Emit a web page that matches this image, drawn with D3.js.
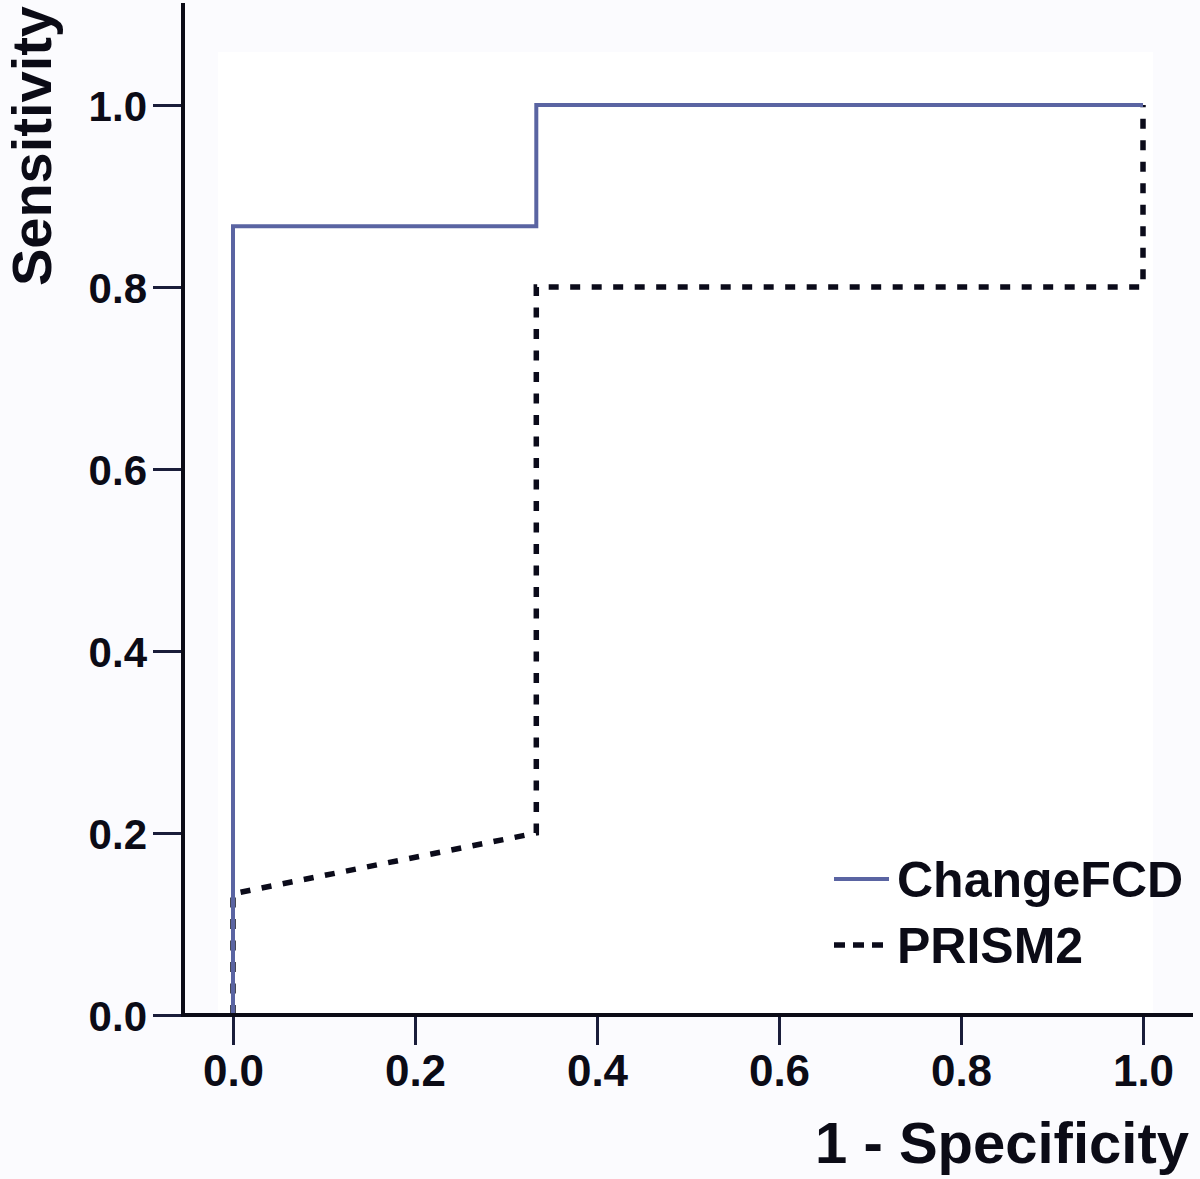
<!DOCTYPE html>
<html>
<head>
<meta charset="utf-8">
<script src="https://cdn.jsdelivr.net/npm/d3@7"></script>
<style>
  body { margin: 0; background: #fbfbfe; }
  svg { display: block; }
  text { font-family: "Liberation Sans", Arial, sans-serif; font-weight: bold; fill: #0b0b16; }
</style>
</head>
<body>
<svg id="chart"></svg>
<script>
// ROC curves: x = 1 - specificity, y = sensitivity
const changeFcdX = [0, 0, 0.3333, 0.3333, 1];
const changeFcdY = [0, 0.8667, 0.8667, 1, 1];
const prismX = [0, 0, 0.3333, 0.3333, 1, 1];
const prismY = [0, 0.1333, 0.2, 0.8, 0.8, 1];
const seriesNames = ["ChangeFCD", "PRISM2"];
const tickValues = [0, 0.2, 0.4, 0.6, 0.8, 1.0];

const W = 1200, H = 1179;
const x0 = 183, y0 = 1015;

const svg = d3.select("#chart")
  .attr("width", W)
  .attr("height", H);

const xScale = d3.scaleLinear()
  .domain([0, 1])
  .range([233, 1143]);

const yScale = d3.scaleLinear()
  .domain([0, 1])
  .range([y0, 105]);

// faint white plot panel
svg.append("rect")
  .attr("x", 218).attr("y", 52)
  .attr("width", 1153 - 218).attr("height", y0 - 52)
  .attr("fill", "#ffffff");

// legend panel
svg.append("rect")
  .attr("x", 810).attr("y", 838)
  .attr("width", 88).attr("height", 56)
  .attr("fill", "#ffffff");

const line = d3.line()
  .x(d => xScale(d[0]))
  .y(d => yScale(d[1]));

const dash = "10,11.5";

// PRISM2 (dotted) underneath
svg.append("path")
  .datum(prismX.map((v, i) => [v, prismY[i]]))
  .attr("d", line)
  .attr("fill", "none")
  .attr("stroke", "#0b0b1a")
  .attr("stroke-width", 5.5)
  .attr("stroke-dasharray", dash);

// ChangeFCD (solid)
svg.append("path")
  .datum(changeFcdX.map((v, i) => [v, changeFcdY[i]]))
  .attr("d", line)
  .attr("fill", "none")
  .attr("stroke", "#5a64a2")
  .attr("stroke-width", 4);

// axes
const xAxis = d3.axisBottom(xScale)
  .tickValues(tickValues)
  .tickSize(30)
  .tickPadding(10)
  .tickFormat(d3.format(".1f"));

const yAxis = d3.axisLeft(yScale)
  .tickValues(tickValues)
  .tickSize(30)
  .tickPadding(6)
  .tickFormat(d3.format(".1f"));

const gx = svg.append("g")
  .attr("transform", `translate(0, ${y0})`)
  .call(xAxis);
gx.select(".domain").remove();
gx.selectAll(".tick line").attr("stroke", "#1a1d3a").attr("stroke-width", 3);
gx.selectAll(".tick text")
  .attr("font-size", 44)
  .attr("dy", "0.71em")
  .attr("fill", "#0b0b16")
  .attr("font-family", "Liberation Sans, Arial, sans-serif");

const gy = svg.append("g")
  .attr("transform", `translate(${x0}, 0)`)
  .call(yAxis);
gy.select(".domain").remove();
gy.selectAll(".tick line").attr("stroke", "#1a1d3a").attr("stroke-width", 3);
gy.selectAll(".tick text")
  .attr("font-size", 42)
  .attr("dy", "0.36em")
  .attr("fill", "#0b0b16")
  .attr("font-family", "Liberation Sans, Arial, sans-serif");

// axis lines
svg.append("line")
  .attr("x1", x0).attr("x2", x0)
  .attr("y1", 3).attr("y2", y0 + 2)
  .attr("stroke", "#0b0b16").attr("stroke-width", 4);
svg.append("line")
  .attr("x1", x0 - 2).attr("x2", 1193)
  .attr("y1", y0).attr("y2", y0)
  .attr("stroke", "#0b0b16").attr("stroke-width", 4);

// axis titles
svg.append("text")
  .attr("x", 1189).attr("y", 1163)
  .attr("text-anchor", "end")
  .attr("font-size", 58)
  .text("1 - Specificity");

svg.append("text")
  .attr("transform", "translate(51, 6) rotate(-90)")
  .attr("text-anchor", "end")
  .attr("font-size", 56)
  .text("Sensitivity");

// legend
const legend = svg.append("g");
const legendRows = [
  { name: seriesNames[0], y: 879, color: "#5a64a2", width: 4, dash: null, ty: 897 },
  { name: seriesNames[1], y: 945, color: "#0b0b1a", width: 5.5, dash: "11,8", ty: 963 }
];
legendRows.forEach(r => {
  legend.append("line")
    .attr("x1", 834).attr("x2", 889)
    .attr("y1", r.y).attr("y2", r.y)
    .attr("stroke", r.color)
    .attr("stroke-width", r.width)
    .attr("stroke-dasharray", r.dash);
  legend.append("text")
    .attr("x", 897).attr("y", r.ty)
    .attr("font-size", 50)
    .text(r.name);
});
</script>
</body>
</html>
